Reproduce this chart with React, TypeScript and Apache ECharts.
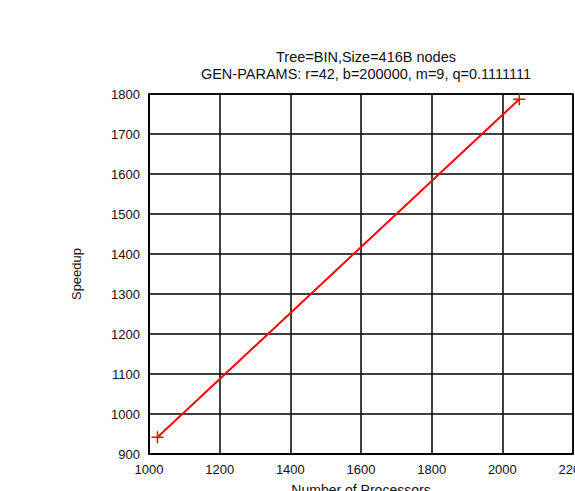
import React, { useEffect, useRef } from "react";
import * as echarts from "echarts";

const titleLines = ["Tree=BIN,Size=416B nodes", "GEN-PARAMS: r=42, b=200000, m=9, q=0.1111111"];
const processors = [1024, 2048];
const speedup = [942, 1787];
const xName = "Number of Processors";
const yName = "Speedup";

export default function App() {
  const ref = useRef<HTMLDivElement>(null);
  useEffect(() => {
    document.body.style.margin = "0";
    document.body.style.overflow = "hidden";
    document.documentElement.style.overflow = "hidden";
    if (!ref.current) return;
    const chart = echarts.init(ref.current, undefined, { renderer: "svg" });
    const font = "Liberation Sans, Arial, sans-serif";
    chart.setOption({
      animation: false,
      backgroundColor: "#fff",
      title: {
        text: titleLines.join("\n"),
        left: 361,
        textAlign: "center",
        top: 43,
        textStyle: { fontFamily: font, fontSize: 14.5, fontWeight: "normal", color: "#111", lineHeight: 17 },
      },
      grid: {
        left: 149,
        right: 2,
        top: 94,
        bottom: 37,
        containLabel: false,
        outerBoundsMode: "none",
        show: true,
        borderColor: "#000",
        borderWidth: 1.5,
      },
      xAxis: {
        type: "value",
        min: 1000,
        max: 2200,
        interval: 200,
        name: xName,
        nameLocation: "middle",
        nameGap: 29,
        nameTextStyle: { fontFamily: font, fontSize: 14, color: "#111" },
        axisLine: { show: true, lineStyle: { color: "#000", width: 1.5 } },
        axisTick: { show: false },
        axisLabel: { fontFamily: font, fontSize: 13, color: "#111", margin: 9, formatter: (v: number) => String(v) },
        splitLine: { show: true, lineStyle: { color: "#000", width: 1.5 } },
      },
      yAxis: {
        type: "value",
        min: 900,
        max: 1800,
        interval: 100,
        name: yName,
        nameLocation: "middle",
        nameGap: 66,
        nameRotate: 90,
        nameTextStyle: { fontFamily: font, fontSize: 13, color: "#111" },
        axisLine: { show: true, lineStyle: { color: "#000", width: 1.5 } },
        axisTick: { show: false },
        axisLabel: { fontFamily: font, fontSize: 13, color: "#111", margin: 9, formatter: (v: number) => String(v) },
        splitLine: { show: true, lineStyle: { color: "#000", width: 1.5 } },
      },
      series: [
        {
          type: "line",
          data: processors.map((p, i) => [p, speedup[i]]),
          lineStyle: { color: "#ff0000", width: 2 },
          symbol: "path://M0,5 L10,5 M5,0 L5,10",
          symbolSize: 12,
          showSymbol: true,
          itemStyle: { color: "none", borderColor: "#ff0000", borderWidth: 1.5 },
          z: 5,
        },
      ],
    });
    return () => chart.dispose();
  }, []);
  return <div ref={ref} style={{ width: 575, height: 491 }} />;
}
